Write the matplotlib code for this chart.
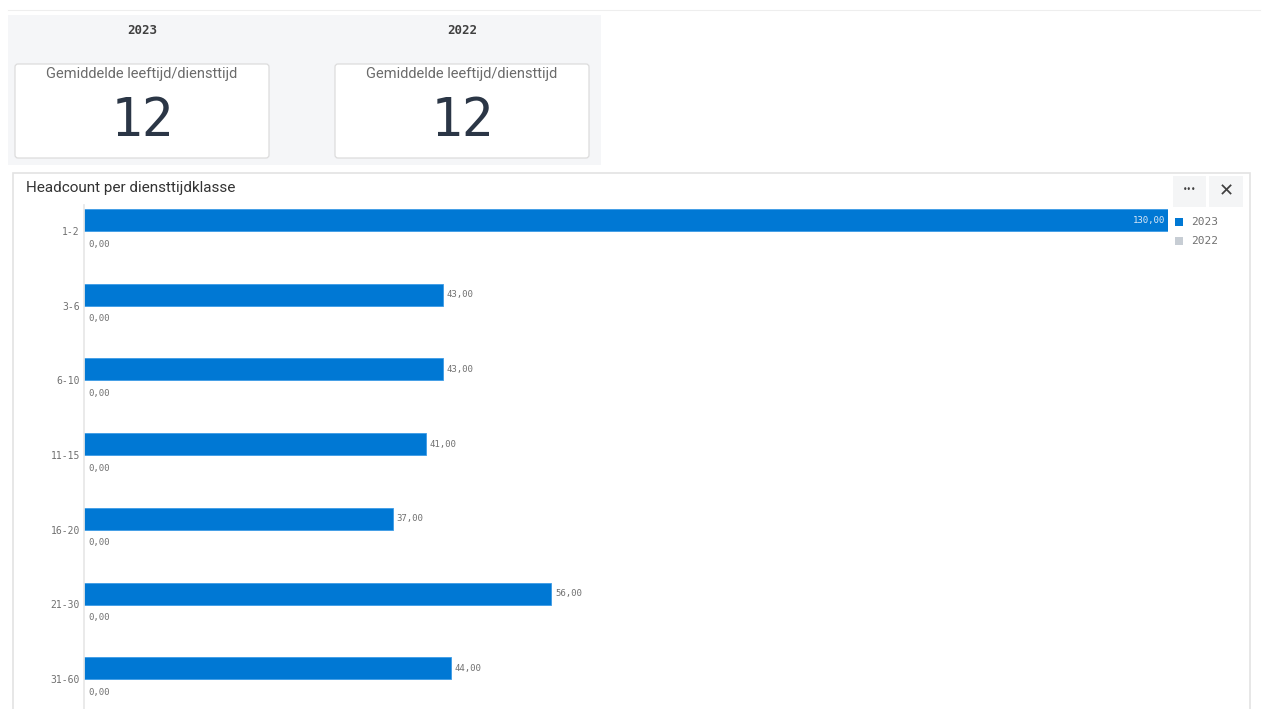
import matplotlib
matplotlib.use("Agg")
import matplotlib.pyplot as plt
from matplotlib.patches import Rectangle, FancyBboxPatch

# Headcount per service-years class
categories = ["1-2", "3-6", "6-10", "11-15", "16-20", "21-30", "31-60"]
values_2023 = [130, 43, 43, 41, 37, 56, 44]
values_2022 = [0, 0, 0, 0, 0, 0, 0]
series_names = ["2023", "2022"]

# KPI cards
kpi_years = ["2023", "2022"]
kpi_title = "Gemiddelde leeftijd/diensttijd"
kpi_values = [12, 12]

W, H = 1265, 709
BLUE = "#0078d4"
GREY_BAR = "#c7cdd4"
MONO = ["DejaVu Sans Mono"]

fig = plt.figure(figsize=(W / 100, H / 100), dpi=100)
fig.patch.set_facecolor("white")

# Pixel-space overlay for panels and cards
bg = fig.add_axes([0, 0, 1, 1])
bg.set_xlim(0, W)
bg.set_ylim(H, 0)
bg.axis("off")
bg.set_zorder(0)

bg.plot([8, 1260], [10, 10], color="#eeeeee", lw=0.8)
bg.add_patch(Rectangle((8, 15), 593, 150, facecolor="#f5f6f8", edgecolor="none"))

card_x = [15, 335]
for x0, year, val in zip(card_x, kpi_years, kpi_values):
    cx = x0 + 127
    bg.text(cx, 30, year, ha="center", va="center", family=MONO,
            fontsize=9, fontweight="bold", color="#404040")
    bg.add_patch(FancyBboxPatch((x0, 64), 254, 94,
                                boxstyle="round,pad=0,rounding_size=3",
                                facecolor="white", edgecolor="#dcdcdc", lw=0.9))
    bg.text(cx, 74, kpi_title, ha="center", va="center", family="Roboto",
            fontsize=10.5, color="#6b6b6b")
    bg.text(cx, 121, f"{val}", ha="center", va="center", family=MONO,
            fontsize=38, color="#2b3646")

# Chart panel
bg.add_patch(Rectangle((13, 173), 1237, 545, facecolor="white",
                       edgecolor="#e3e3e3", lw=1.2))
bg.text(26, 188, "Headcount per diensttijdklasse", ha="left", va="center",
        family="Roboto", fontsize=11, color="#333333")
bg.add_patch(Rectangle((1173, 176), 33, 31, facecolor="#f4f5f6", edgecolor="none"))
bg.add_patch(Rectangle((1209, 176), 34, 31, facecolor="#f4f5f6", edgecolor="none"))
bg.text(1189.5, 190, "\u2022\u2022\u2022", ha="center", va="center",
        fontsize=5.5, color="#404040")
bg.text(1226, 191, "\u2715", ha="center", va="center", fontsize=13, color="#404040",
        family="DejaVu Sans")

# Legend
for i, (name, col) in enumerate(zip(series_names, [BLUE, GREY_BAR])):
    y = 222 + 19 * i
    bg.add_patch(Rectangle((1175, y - 4), 8, 8, facecolor=col, edgecolor="none"))
    bg.text(1191, y, name, ha="left", va="center", family=MONO,
            fontsize=8, color="#707070")

# Bar axes: x from pixel 84, y from pixel 205 to bottom of figure
ax_left, ax_right = 84, 1168
ax_top, ax_bottom = 205, H
ax = fig.add_axes([ax_left / W, 1 - ax_bottom / H,
                   (ax_right - ax_left) / W, (ax_bottom - ax_top) / H])
ax.set_zorder(1)
ax.patch.set_alpha(0)

spacing = 74.7
xmax = max(values_2023)
ax.set_xlim(0, xmax)
top_pad = (231 - ax_top) / spacing
span = (ax_bottom - ax_top) / spacing
ax.set_ylim(span - top_pad, -top_pad)

bar_h = 22 / spacing
off = 11 / spacing
pos = list(range(len(categories)))
ax.barh([p - off for p in pos], values_2023, height=bar_h, color=BLUE,
        edgecolor="#3d9be6", lw=0.6)
ax.barh([p + off for p in pos], values_2022, height=bar_h, color=GREY_BAR)

px = xmax / (ax_right - ax_left)  # data units per pixel
for p, v in zip(pos, values_2023):
    label = f"{v:.2f}".replace(".", ",")
    if v >= 0.95 * xmax:
        ax.text(v - 3 * px, p - off, label, ha="right", va="center",
                family=MONO, fontsize=6.5, color="#dce9f7")
    else:
        ax.text(v + 4 * px, p - off, label, ha="left", va="center",
                family=MONO, fontsize=6.5, color="#707070")
for p, v in zip(pos, values_2022):
    label = f"{v:.2f}".replace(".", ",")
    ax.text(v + 4 * px, p + off + 2 / spacing, label, ha="left", va="center",
            family=MONO, fontsize=6.5, color="#707070")

ax.set_yticks(pos)
ax.set_yticklabels(categories, family=MONO, fontsize=7, color="#707070")
ax.tick_params(axis="y", length=0, pad=3)
ax.set_xticks([])
for side in ["top", "right", "bottom"]:
    ax.spines[side].set_visible(False)
ax.spines["left"].set_color("#e6e6e6")
ax.spines["left"].set_linewidth(1.2)

fig.savefig("out.png", dpi=100, facecolor="white")
